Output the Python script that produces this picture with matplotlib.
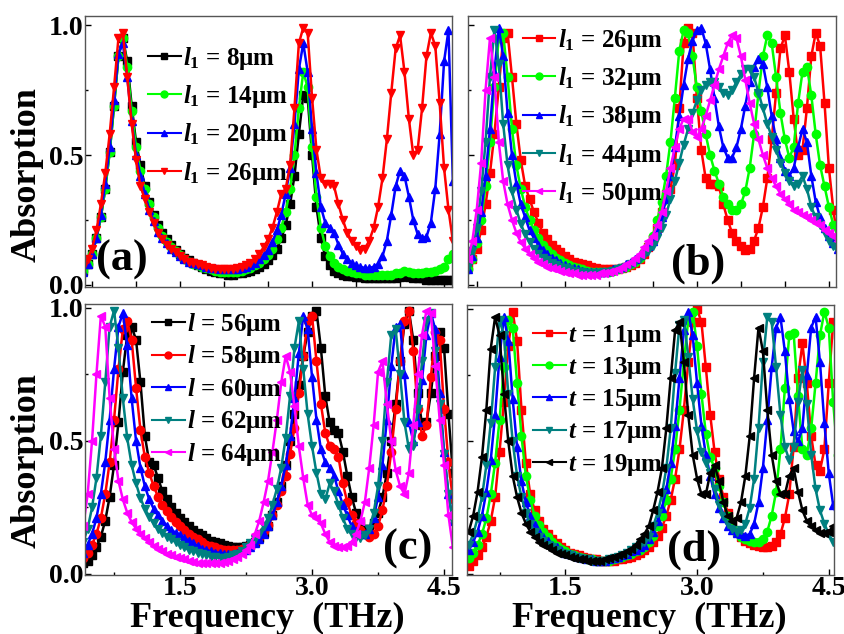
import numpy as np
import matplotlib
matplotlib.use('Agg')
import matplotlib.pyplot as plt
from matplotlib.ticker import MultipleLocator, NullFormatter

plt.rcParams['font.family'] = 'Liberation Serif'
plt.rcParams['font.weight'] = 'bold'
plt.rcParams['mathtext.fontset'] = 'custom'
plt.rcParams['mathtext.rm'] = 'Liberation Serif:bold'
plt.rcParams['mathtext.it'] = 'Liberation Serif:italic:bold'
plt.rcParams['mathtext.bf'] = 'Liberation Serif:bold'

# frequency grid (THz), 0.40 ... 4.60 in 0.05 steps
freq = np.round(np.arange(0.40, 4.601, 0.05), 2)

# panel (a): varying l1
a_l1_8 = [0.055, 0.08, 0.12, 0.18, 0.26, 0.37, 0.51, 0.69, 0.88, 0.95,
          0.86, 0.69, 0.55, 0.46, 0.38, 0.32, 0.27, 0.23, 0.20, 0.175,
          0.155, 0.135, 0.12, 0.105, 0.095, 0.085, 0.075, 0.07, 0.06, 0.055,
          0.05, 0.045, 0.045, 0.04, 0.04, 0.045, 0.045, 0.05, 0.055, 0.06,
          0.07, 0.08, 0.095, 0.115, 0.14, 0.18, 0.23, 0.31, 0.42, 0.58,
          0.73, 0.72, 0.50, 0.30, 0.18, 0.11, 0.075, 0.055, 0.045, 0.04,
          0.035, 0.035, 0.03, 0.03, 0.025, 0.025, 0.025, 0.025, 0.025, 0.025,
          0.025, 0.025, 0.03, 0.035, 0.03, 0.025, 0.025, 0.025, 0.02, 0.02,
          0.02, 0.02, 0.02, 0.02, 0.02]
a_l1_14 = [0.055, 0.08, 0.12, 0.18, 0.26, 0.37, 0.51, 0.69, 0.88, 0.95,
           0.84, 0.67, 0.53, 0.44, 0.37, 0.31, 0.26, 0.22, 0.19, 0.165,
           0.145, 0.13, 0.115, 0.10, 0.09, 0.08, 0.075, 0.07, 0.065, 0.06,
           0.055, 0.05, 0.05, 0.05, 0.05, 0.05, 0.055, 0.06, 0.065, 0.075,
           0.085, 0.10, 0.115, 0.14, 0.175, 0.22, 0.28, 0.37, 0.50, 0.68,
           0.82, 0.76, 0.53, 0.34, 0.22, 0.15, 0.11, 0.085, 0.07, 0.06,
           0.055, 0.05, 0.045, 0.045, 0.04, 0.04, 0.04, 0.04, 0.04, 0.04,
           0.04, 0.045, 0.045, 0.055, 0.05, 0.045, 0.045, 0.045, 0.05, 0.05,
           0.055, 0.06, 0.07, 0.10, 0.12]
a_l1_20 = [0.05, 0.08, 0.12, 0.18, 0.27, 0.39, 0.53, 0.71, 0.89, 0.93,
           0.80, 0.63, 0.50, 0.42, 0.35, 0.29, 0.245, 0.205, 0.18, 0.16,
           0.14, 0.125, 0.11, 0.10, 0.09, 0.085, 0.08, 0.075, 0.07, 0.065,
           0.065, 0.06, 0.06, 0.06, 0.06, 0.06, 0.065, 0.07, 0.075, 0.085,
           0.10, 0.115, 0.135, 0.165, 0.21, 0.27, 0.35, 0.45, 0.62, 0.83,
           0.93, 0.82, 0.60, 0.43, 0.30, 0.24, 0.22, 0.20, 0.155, 0.12,
           0.10, 0.085, 0.075, 0.07, 0.065, 0.065, 0.07, 0.08, 0.11, 0.17,
           0.27, 0.38, 0.44, 0.42, 0.34, 0.25, 0.195, 0.18, 0.185, 0.24,
           0.37, 0.58, 0.86, 0.98, 0.40]
l1_26 = [0.07, 0.10, 0.14, 0.21, 0.31, 0.43, 0.58, 0.76, 0.95, 0.97,
         0.80, 0.62, 0.48, 0.38, 0.33, 0.28, 0.24, 0.20, 0.175, 0.155,
         0.14, 0.125, 0.11, 0.10, 0.09, 0.085, 0.08, 0.075, 0.07, 0.065,
         0.06, 0.06, 0.06, 0.06, 0.06, 0.065, 0.07, 0.075, 0.085, 0.10,
         0.12, 0.145, 0.175, 0.22, 0.28, 0.35, 0.37, 0.46, 0.68, 0.93,
         0.99, 0.97, 0.72, 0.52, 0.41, 0.39, 0.39, 0.38, 0.31, 0.25,
         0.20, 0.17, 0.15, 0.135, 0.14, 0.17, 0.22, 0.30, 0.41, 0.56,
         0.74, 0.91, 0.96, 0.82, 0.64, 0.50, 0.52, 0.68, 0.88, 0.97,
         0.92, 0.70, 0.45, 0.29, 0.17]

# panel (b): larger l1
b_l1_32 = [0.06, 0.10, 0.16, 0.25, 0.38, 0.55, 0.76, 0.95, 0.97, 0.80,
           0.60, 0.46, 0.37, 0.30, 0.25, 0.21, 0.18, 0.155, 0.135, 0.12,
           0.105, 0.095, 0.085, 0.075, 0.07, 0.065, 0.06, 0.055, 0.05, 0.05,
           0.05, 0.05, 0.05, 0.055, 0.06, 0.065, 0.07, 0.08, 0.09, 0.105,
           0.125, 0.15, 0.19, 0.25, 0.32, 0.42, 0.55, 0.72, 0.90, 0.98,
           0.97, 0.88, 0.76, 0.67, 0.58, 0.50, 0.44, 0.39, 0.34, 0.31,
           0.29, 0.29, 0.31, 0.36, 0.45, 0.58, 0.74, 0.88, 0.96, 0.93,
           0.80, 0.66, 0.56, 0.49, 0.53, 0.70, 0.82, 0.84, 0.73, 0.58,
           0.46, 0.38, 0.30, 0.23, 0.19]
b_l1_38 = [0.06, 0.11, 0.18, 0.28, 0.42, 0.60, 0.82, 0.99, 0.88, 0.66,
           0.50, 0.39, 0.31, 0.26, 0.21, 0.18, 0.155, 0.135, 0.12, 0.105,
           0.095, 0.085, 0.075, 0.07, 0.065, 0.06, 0.055, 0.05, 0.05, 0.05,
           0.05, 0.05, 0.055, 0.06, 0.065, 0.07, 0.08, 0.09, 0.10, 0.115,
           0.13, 0.15, 0.17, 0.21, 0.26, 0.33, 0.42, 0.53, 0.65, 0.77,
           0.87, 0.94, 0.98, 0.99, 0.93, 0.83, 0.72, 0.61, 0.53, 0.49,
           0.49, 0.53, 0.60, 0.69, 0.78, 0.84, 0.87, 0.85, 0.76, 0.65,
           0.56, 0.49, 0.44, 0.42, 0.45, 0.53, 0.60, 0.55, 0.42, 0.32,
           0.26, 0.22, 0.19, 0.16, 0.14]
b_l1_44 = [0.07, 0.13, 0.22, 0.36, 0.55, 0.80, 0.98, 0.85, 0.62, 0.46,
           0.36, 0.29, 0.235, 0.195, 0.165, 0.14, 0.12, 0.105, 0.095, 0.085,
           0.075, 0.07, 0.065, 0.06, 0.055, 0.05, 0.05, 0.045, 0.045, 0.045,
           0.045, 0.05, 0.05, 0.055, 0.06, 0.065, 0.07, 0.08, 0.09, 0.10,
           0.115, 0.13, 0.15, 0.18, 0.22, 0.27, 0.33, 0.40, 0.47, 0.54,
           0.60, 0.66, 0.71, 0.75, 0.77, 0.78, 0.78, 0.76, 0.74, 0.73,
           0.75, 0.78, 0.81, 0.83, 0.83, 0.80, 0.74, 0.68, 0.62, 0.57,
           0.52, 0.47, 0.43, 0.40, 0.38, 0.39, 0.42, 0.37, 0.30, 0.26,
           0.23, 0.20, 0.17, 0.15, 0.13]
b_l1_50 = [0.10, 0.17, 0.29, 0.47, 0.75, 0.95, 0.80, 0.55, 0.40, 0.31,
           0.25, 0.20, 0.165, 0.14, 0.12, 0.105, 0.09, 0.08, 0.07, 0.065,
           0.06, 0.055, 0.05, 0.045, 0.045, 0.04, 0.04, 0.04, 0.04, 0.04,
           0.045, 0.045, 0.05, 0.055, 0.06, 0.07, 0.08, 0.09, 0.105, 0.12,
           0.145, 0.17, 0.19, 0.23, 0.28, 0.36, 0.45, 0.53, 0.60, 0.64,
           0.64, 0.59, 0.57, 0.60, 0.65, 0.71, 0.77, 0.83, 0.88, 0.93,
           0.96, 0.95, 0.88, 0.79, 0.70, 0.62, 0.56, 0.50, 0.45, 0.41,
           0.38, 0.35, 0.33, 0.31, 0.29, 0.28, 0.27, 0.26, 0.25, 0.24,
           0.23, 0.21, 0.20, 0.19, 0.17]

# panel (c): varying l
c_l_56 = [0.04, 0.05, 0.07, 0.10, 0.14, 0.20, 0.29, 0.41, 0.57, 0.76,
          0.90, 0.93, 0.88, 0.72, 0.52, 0.42, 0.41, 0.36, 0.31, 0.28,
          0.25, 0.23, 0.21, 0.195, 0.18, 0.165, 0.155, 0.145, 0.135, 0.125,
          0.12, 0.115, 0.11, 0.105, 0.10, 0.10, 0.10, 0.105, 0.11, 0.12,
          0.135, 0.155, 0.18, 0.22, 0.27, 0.33, 0.41, 0.50, 0.60, 0.71,
          0.82, 0.91, 0.97, 0.99, 0.85, 0.67, 0.57, 0.54, 0.53, 0.46,
          0.37, 0.29, 0.23, 0.19, 0.17, 0.17, 0.19, 0.23, 0.29, 0.38,
          0.50, 0.64, 0.80, 0.94, 0.99, 0.88, 0.68, 0.56, 0.57, 0.68,
          0.82, 0.91, 0.85, 0.60, 0.38]
c_l_58 = [0.06, 0.08, 0.11, 0.15, 0.21, 0.30, 0.42, 0.58, 0.77, 0.92,
          0.95, 0.88, 0.70, 0.54, 0.44, 0.38, 0.33, 0.29, 0.26, 0.235,
          0.215, 0.195, 0.18, 0.165, 0.15, 0.14, 0.13, 0.12, 0.11, 0.105,
          0.10, 0.095, 0.09, 0.09, 0.09, 0.09, 0.095, 0.10, 0.11, 0.12,
          0.14, 0.16, 0.185, 0.22, 0.26, 0.31, 0.37, 0.45, 0.55, 0.68,
          0.82, 0.95, 0.97, 0.80, 0.64, 0.53, 0.48, 0.47, 0.44, 0.34,
          0.27, 0.22, 0.19, 0.165, 0.15, 0.14, 0.15, 0.18, 0.24, 0.33,
          0.46, 0.62, 0.80, 0.95, 0.99, 0.84, 0.62, 0.52, 0.56, 0.74,
          0.91, 0.88, 0.62, 0.42, 0.28]
c_l_60 = [0.08, 0.11, 0.15, 0.21, 0.30, 0.42, 0.58, 0.77, 0.93, 0.98,
          0.86, 0.66, 0.50, 0.40, 0.33, 0.28, 0.245, 0.22, 0.20, 0.18,
          0.165, 0.155, 0.145, 0.135, 0.125, 0.115, 0.105, 0.095, 0.09, 0.085,
          0.08, 0.08, 0.075, 0.075, 0.075, 0.08, 0.085, 0.09, 0.10, 0.115,
          0.13, 0.15, 0.18, 0.22, 0.27, 0.33, 0.41, 0.52, 0.66, 0.83,
          0.97, 0.92, 0.74, 0.58, 0.47, 0.42, 0.40, 0.37, 0.31, 0.26,
          0.22, 0.18, 0.16, 0.15, 0.15, 0.17, 0.21, 0.29, 0.41, 0.58,
          0.78, 0.93, 0.94, 0.75, 0.57, 0.50, 0.57, 0.73, 0.90, 0.98,
          0.92, 0.68, 0.46, 0.30, 0.20]
c_l_62 = [0.12, 0.17, 0.25, 0.36, 0.52, 0.72, 0.93, 0.99, 0.85, 0.66,
          0.51, 0.41, 0.34, 0.285, 0.245, 0.215, 0.19, 0.17, 0.155, 0.14,
          0.13, 0.12, 0.11, 0.10, 0.09, 0.085, 0.08, 0.075, 0.07, 0.065,
          0.065, 0.06, 0.06, 0.065, 0.07, 0.075, 0.085, 0.10, 0.115, 0.13,
          0.15, 0.18, 0.21, 0.26, 0.32, 0.40, 0.51, 0.67, 0.85, 0.95,
          0.77, 0.60, 0.48, 0.38, 0.30, 0.28, 0.34, 0.31, 0.26, 0.21,
          0.17, 0.15, 0.14, 0.135, 0.145, 0.17, 0.23, 0.33, 0.50, 0.72,
          0.90, 0.92, 0.75, 0.57, 0.47, 0.48, 0.62, 0.80, 0.95, 0.98,
          0.84, 0.64, 0.45, 0.30, 0.20]
c_l_64 = [0.18, 0.30, 0.50, 0.75, 0.97, 0.93, 0.66, 0.47, 0.35, 0.28,
          0.23, 0.195, 0.17, 0.15, 0.135, 0.12, 0.105, 0.095, 0.085, 0.075,
          0.07, 0.065, 0.06, 0.055, 0.05, 0.045, 0.04, 0.04, 0.04, 0.04,
          0.04, 0.04, 0.045, 0.05, 0.055, 0.065, 0.075, 0.09, 0.11, 0.15,
          0.20, 0.27, 0.35, 0.46, 0.58, 0.72, 0.82, 0.76, 0.63, 0.48,
          0.36, 0.26, 0.22, 0.21, 0.19, 0.15, 0.12, 0.105, 0.10, 0.10,
          0.105, 0.12, 0.15, 0.20, 0.27, 0.40, 0.56, 0.76, 0.80, 0.64,
          0.50, 0.39, 0.33, 0.30, 0.38, 0.56, 0.75, 0.90, 0.99, 0.98,
          0.78, 0.58, 0.41, 0.22, 0.10]

# panel (d): varying t
d_t_11 = [0.03, 0.05, 0.07, 0.10, 0.14, 0.20, 0.29, 0.46, 0.65, 0.86,
          0.99, 0.88, 0.62, 0.42, 0.30, 0.24, 0.20, 0.17, 0.15, 0.13,
          0.115, 0.10, 0.09, 0.08, 0.075, 0.07, 0.065, 0.06, 0.055, 0.055,
          0.05, 0.05, 0.05, 0.05, 0.055, 0.055, 0.06, 0.065, 0.07, 0.08,
          0.09, 0.10, 0.12, 0.145, 0.175, 0.22, 0.28, 0.36, 0.47, 0.62,
          0.80, 0.95, 1.0, 0.95, 0.78, 0.60, 0.46, 0.36, 0.29, 0.23,
          0.19, 0.16, 0.14, 0.125, 0.115, 0.11, 0.105, 0.10, 0.10, 0.105,
          0.12, 0.15, 0.21, 0.30, 0.48, 0.74, 0.87, 0.72, 0.52, 0.41,
          0.39, 0.47, 0.72, 0.95, 0.90]
d_t_13 = [0.06, 0.08, 0.11, 0.15, 0.21, 0.30, 0.42, 0.58, 0.78, 0.96,
          0.93, 0.72, 0.52, 0.37, 0.28, 0.22, 0.185, 0.16, 0.14, 0.12,
          0.105, 0.095, 0.085, 0.075, 0.07, 0.065, 0.06, 0.055, 0.055, 0.05,
          0.05, 0.05, 0.05, 0.055, 0.06, 0.065, 0.07, 0.075, 0.085, 0.09,
          0.10, 0.12, 0.145, 0.18, 0.22, 0.28, 0.36, 0.47, 0.62, 0.80,
          0.96, 0.99, 0.86, 0.68, 0.53, 0.44, 0.40, 0.33, 0.27, 0.22,
          0.18, 0.155, 0.14, 0.13, 0.125, 0.12, 0.12, 0.13, 0.16, 0.22,
          0.31, 0.47, 0.70, 0.90, 0.91, 0.67, 0.47, 0.45, 0.55, 0.72,
          0.90, 0.99, 0.93, 0.65, 0.45]
d_t_15 = [0.09, 0.12, 0.16, 0.22, 0.31, 0.43, 0.60, 0.82, 0.97, 0.88,
          0.66, 0.48, 0.35, 0.27, 0.22, 0.185, 0.16, 0.14, 0.125, 0.11,
          0.10, 0.09, 0.08, 0.075, 0.07, 0.065, 0.06, 0.055, 0.055, 0.05,
          0.05, 0.05, 0.055, 0.06, 0.065, 0.07, 0.075, 0.085, 0.09, 0.10,
          0.11, 0.13, 0.16, 0.20, 0.25, 0.32, 0.42, 0.56, 0.74, 0.92,
          0.99, 0.90, 0.72, 0.56, 0.45, 0.37, 0.30, 0.25, 0.21, 0.18,
          0.165, 0.155, 0.15, 0.145, 0.15, 0.19, 0.27, 0.40, 0.58, 0.78,
          0.93, 0.97, 0.84, 0.66, 0.54, 0.50, 0.55, 0.75, 0.93, 0.97,
          0.80, 0.57, 0.38, 0.26, 0.21]
d_t_17 = [0.11, 0.15, 0.21, 0.29, 0.41, 0.57, 0.78, 0.96, 0.90, 0.68,
          0.50, 0.37, 0.29, 0.23, 0.19, 0.16, 0.14, 0.125, 0.11, 0.10,
          0.09, 0.08, 0.075, 0.07, 0.065, 0.06, 0.055, 0.055, 0.05, 0.05,
          0.05, 0.05, 0.055, 0.06, 0.065, 0.07, 0.08, 0.09, 0.10, 0.11,
          0.12, 0.14, 0.18, 0.23, 0.30, 0.40, 0.55, 0.76, 0.94, 0.96,
          0.82, 0.66, 0.54, 0.46, 0.42, 0.38, 0.32, 0.26, 0.22, 0.19,
          0.17, 0.16, 0.165, 0.19, 0.25, 0.36, 0.55, 0.80, 0.97, 0.95,
          0.78, 0.60, 0.48, 0.43, 0.48, 0.65, 0.77, 0.64, 0.45, 0.32,
          0.24, 0.19, 0.15, 0.12, 0.11]
d_t_19 = [0.16, 0.22, 0.31, 0.44, 0.62, 0.85, 0.97, 0.90, 0.68, 0.50,
          0.37, 0.29, 0.23, 0.19, 0.16, 0.14, 0.12, 0.11, 0.10, 0.09,
          0.08, 0.075, 0.07, 0.065, 0.06, 0.055, 0.055, 0.05, 0.05, 0.05,
          0.05, 0.055, 0.06, 0.065, 0.07, 0.075, 0.085, 0.095, 0.11, 0.13,
          0.15, 0.18, 0.24, 0.31, 0.40, 0.55, 0.74, 0.92, 0.95, 0.80,
          0.60, 0.45, 0.36, 0.30, 0.30, 0.38, 0.41, 0.35, 0.27, 0.22,
          0.20, 0.21, 0.27, 0.37, 0.52, 0.74, 0.93, 0.84, 0.62, 0.45,
          0.35, 0.30, 0.30, 0.37, 0.40, 0.31, 0.24, 0.20, 0.18, 0.165,
          0.155, 0.155, 0.16, 0.18, 0.19]

labels_a = [r'$l_1$ = 8μm', r'$l_1$ = 14μm', r'$l_1$ = 20μm', r'$l_1$ = 26μm']
labels_b = [r'$l_1$ = 26μm', r'$l_1$ = 32μm', r'$l_1$ = 38μm', r'$l_1$ = 44μm', r'$l_1$ = 50μm']
labels_c = [r'$l$ = 56μm', r'$l$ = 58μm', r'$l$ = 60μm', r'$l$ = 62μm', r'$l$ = 64μm']
labels_d = [r'$t$ = 11μm', r'$t$ = 13μm', r'$t$ = 15μm', r'$t$ = 17μm', r'$t$ = 19μm']

teal = '#008080'
panels = [
    # data, labels, colors, markers, rect, xlim, ylim, legend anchor, labelspacing, tag, tag pos
    ([a_l1_8, a_l1_14, a_l1_20, l1_26], labels_a,
     ['black', '#00ff00', 'blue', 'red'], ['s', 'o', '^', 'v'],
     [0.1006, 0.5473, 0.4343, 0.4275], (0.42, 4.59), (-0.008, 1.035),
     (0.172, 0.893), 0.45, '(a)', (0.10, 0.10)),
    ([l1_26, b_l1_32, b_l1_38, b_l1_44, b_l1_50], labels_b,
     ['red', '#00ff00', 'blue', teal, '#ff00ff'], ['s', 'o', '^', 'v', '<'],
     [0.5538, 0.5473, 0.4355, 0.4275], (0.40, 4.58), (-0.008, 1.035),
     (0.149, 0.96), 0.45, '(b)', (0.625, 0.085)),
    ([c_l_56, c_l_58, c_l_60, c_l_62, c_l_64], labels_c,
     ['black', 'red', 'blue', teal, '#ff00ff'], ['s', 'o', '^', 'v', '<'],
     [0.1006, 0.0931, 0.4343, 0.4274], (0.42, 4.59), (-0.004, 1.015),
     (0.183, 0.975), 0.22, '(c)', (0.88, 0.095)),
    ([d_t_11, d_t_13, d_t_15, d_t_17, d_t_19], labels_d,
     ['red', '#00ff00', 'blue', teal, 'black'], ['s', 'o', '^', 'v', '<'],
     [0.5527, 0.0931, 0.4343, 0.4258], (0.38, 4.56), (-0.004, 1.015),
     (0.18, 0.935), 0.25, '(d)', (0.62, 0.095)),
]

fig = plt.figure(figsize=(8.45, 6.34), dpi=100)

for k, (series, labels, colors, markers, rect, xlim, ylim, anchor, lsp, tag, tagpos) in enumerate(panels):
    ax = fig.add_axes(rect)
    for y, lab, c, m in zip(series, labels, colors, markers):
        ax.plot(freq, y, color=c, marker=m, markersize=6, markeredgecolor=c,
                linewidth=1.8, label=lab)
    ax.set_xlim(*xlim)
    ax.set_ylim(*ylim)
    if k < 2:
        ax.xaxis.set_major_locator(MultipleLocator(0.5))
        ax.xaxis.set_major_formatter(NullFormatter())
    else:
        ax.xaxis.set_major_locator(MultipleLocator(1.5))
        ax.xaxis.set_minor_locator(MultipleLocator(0.75))
        ax.xaxis.set_major_formatter(plt.FormatStrFormatter('%.1f'))
    ax.yaxis.set_major_locator(MultipleLocator(0.5))
    ax.yaxis.set_minor_locator(MultipleLocator(0.25))
    if k in (0, 2):
        ax.yaxis.set_major_formatter(plt.FormatStrFormatter('%.1f'))
    else:
        ax.yaxis.set_major_formatter(NullFormatter())
    ax.tick_params(which='major', direction='in', length=4, width=1, labelsize=20, pad=1)
    ax.tick_params(which='minor', direction='in', length=2.5, width=1)
    for s in ax.spines.values():
        s.set_color('#555555')
        s.set_linewidth(1.0)
    leg = ax.legend(loc='upper left', bbox_to_anchor=anchor, frameon=False, borderpad=0,
                    borderaxespad=0, handlelength=1.3, handletextpad=0.1, labelspacing=lsp,
                    numpoints=1, prop={'family': 'Liberation Serif', 'weight': 'bold', 'size': 18})
    for h in leg.legend_handles:
        h.set_linewidth(1.5)
        h.set_markersize(5)
    ax.text(tagpos[0], tagpos[1], tag, transform=ax.transAxes, fontsize=32,
            fontweight='bold', ha='center', va='center')

fig.text(0.032, 0.724, 'Absorption', rotation=90, fontsize=26, fontweight='bold',
         ha='center', va='center')
fig.text(0.032, 0.273, 'Absorption', rotation=90, fontsize=26, fontweight='bold',
         ha='center', va='center')
fig.text(0.316, 0.024, 'Frequency  (THz)', fontsize=26, fontweight='bold',
         ha='center', va='center')
fig.text(0.769, 0.024, 'Frequency  (THz)', fontsize=26, fontweight='bold',
         ha='center', va='center')

fig.savefig('out.png', dpi=100)
